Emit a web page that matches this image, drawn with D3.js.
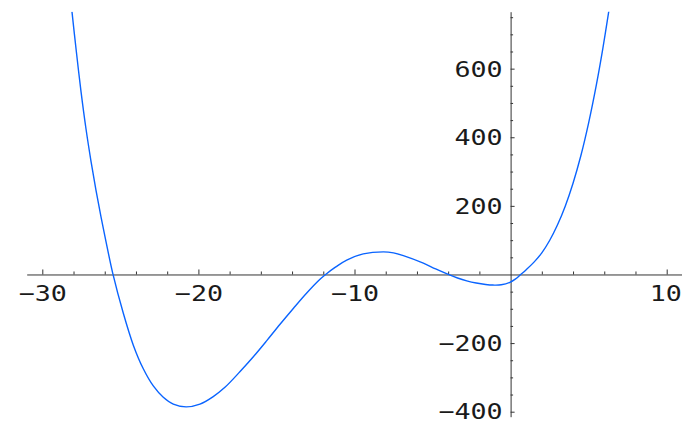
<!DOCTYPE html>
<html>
<head>
<meta charset="utf-8">
<script src="https://cdn.jsdelivr.net/npm/d3@7"></script>
<style>
  body { margin: 0; background: #fff; }
  svg { display: block; }
</style>
</head>
<body>
<script>
let width = 682, height = 423;

// points
let xValues = [-28.10, -27.84, -27.52, -27.20, -26.88, -26.56, -26.24, -25.92, -25.49, -24.81,
    -24.17, -23.53, -22.89, -22.25, -21.61, -20.79, -19.90, -19.05, -18.30, -17.33,
    -16.48, -15.62, -14.77, -13.92, -13.06, -12.21, -11.85, -11.20, -10.50, -9.44,
    -8.15, -7.50, -6.87, -5.59, -4.80, -3.99, -3.40, -2.81, -2.20, -1.60, -1.11,
    -0.60, -0.04, 0.30, 0.65, 1.00, 1.50, 2.00, 2.50, 3.00, 3.50,
    4.00, 4.50, 5.00, 5.50, 5.90, 6.30];
let yValues = [766, 658, 533, 424, 330, 245, 168, 96, 4, -113,
    -206, -275, -325, -358, -378, -386, -378, -356, -329, -283,
    -240, -193, -145, -99, -54, -14, 0, 22, 42, 60,
    66, 63, 55, 33, 16, 0, -10.3, -18.6, -25, -29.2, -30.9,
    -30.1, -22.8, -13.6, 0, 14, 36, 63, 99, 144, 199,
    266, 346, 442, 554, 656, 770];

let xMajor = [-30, -20, -10, 10];
let xMinor = [-28, -26, -24, -22, -18, -16, -14, -12, -8, -6, -4, -2, 2, 4, 6, 8];
let yMajor = [-400, -200, 200, 400, 600];
let yMinor = [-350, -300, -250, -150, -100, -50, 50, 100, 150, 250, 300, 350, 450, 500, 550, 650, 700, 750];

let points = xValues.map((x, i) => ({x: x, y: yValues[i]}));

let x = d3.scaleLinear().domain([-31, 11]).range([26.7, 682.3]);
let y = d3.scaleLinear().domain([-414.6, 766]).range([416.7, 11.7]);

let svg = d3.select("body").append("svg").attr("width", width).attr("height", height);

svg.append("defs").append("clipPath").attr("id", "plotClip")
    .append("rect")
    .attr("x", x(-31)).attr("y", y(766))
    .attr("width", x(11) - x(-31)).attr("height", y(-414.6) - y(766));

let axisColor = "#333";
let sx = 1.27;
let fmt = d => (d < 0 ? "\u2212" + Math.abs(d) : String(d));

// x axis: ticks point up, labels below
let xAxisG = svg.append("g").attr("transform", `translate(0,${y(0)})`);
xAxisG.append("g").call(d3.axisTop(x).tickValues(xMajor).tickSize(5).tickSizeOuter(0).tickFormat(""));
xAxisG.append("g").call(d3.axisTop(x).tickValues(xMinor).tickSize(3).tickSizeOuter(0).tickFormat(""))
    .select(".domain").remove();
xAxisG.append("g").call(d3.axisBottom(x).tickValues(xMajor).tickSize(0).tickFormat(fmt))
    .call(g => g.select(".domain").remove())
    .selectAll("text")
        .attr("y", 0).attr("dy", 0)
        .attr("transform", d => `translate(${d === 10 ? -1.5 : 0},27) scale(${sx},1)`);

// y axis: ticks point right, labels left
let yAxisG = svg.append("g").attr("transform", `translate(${x(0)},0)`);
yAxisG.append("g").call(d3.axisRight(y).tickValues(yMajor).tickSize(4).tickSizeOuter(0).tickFormat(""));
yAxisG.append("g").call(d3.axisRight(y).tickValues(yMinor).tickSize(2.5).tickSizeOuter(0).tickFormat(""))
    .select(".domain").remove();
yAxisG.append("g").call(d3.axisLeft(y).tickValues(yMajor).tickSize(0).tickFormat(fmt))
    .call(g => g.select(".domain").remove())
    .selectAll("text")
        .attr("x", 0).attr("dy", 0)
        .attr("transform", d => `translate(-8,${d === -400 ? 6.8 : 7.6}) scale(${sx},1)`);

svg.selectAll(".domain, .tick line").attr("stroke", axisColor).attr("stroke-width", 1);
svg.selectAll(".tick text")
    .attr("fill", "#1a1a1a")
    .style("font-family", "'DejaVu Sans Mono', monospace")
    .style("font-size", "21px");

let line = d3.line()
    .x(d => x(d.x))
    .y(d => y(d.y))
    .curve(d3.curveCatmullRom);

svg.append("path")
    .attr("clip-path", "url(#plotClip)")
    .attr("d", line(points))
    .attr("fill", "none")
    .attr("stroke", "#0a64ff")
    .attr("stroke-width", 1.4);
</script>
</body>
</html>
